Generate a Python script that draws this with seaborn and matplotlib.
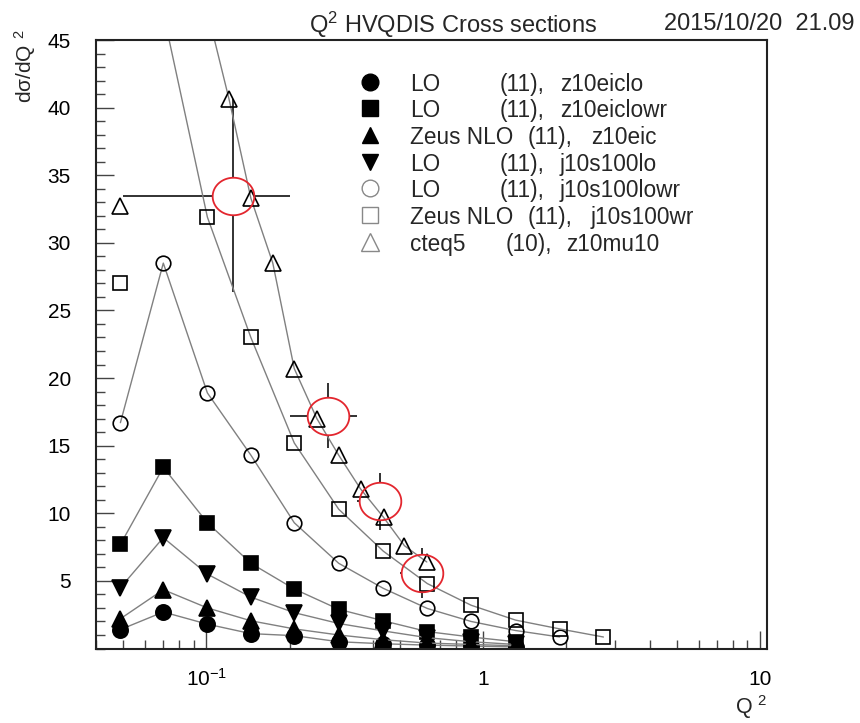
import numpy as np
import pandas as pd
import matplotlib
matplotlib.use("Agg")
import matplotlib.pyplot as plt
import seaborn as sns
from matplotlib.ticker import FixedLocator, NullFormatter, FixedFormatter, MultipleLocator

nan = np.nan

# ---- data ----
q2 = [0.049, 0.070, 0.101, 0.145, 0.208, 0.301, 0.436, 0.629, 0.905, 1.31, 1.89, 2.72]
lo_z10eiclo = [1.4, 2.7, 1.8, 1.1, 0.95, 0.5, 0.35, 0.25, 0.18, 0.12, nan, nan]
lo_z10eiclowr = [7.7, 13.4, 9.3, 6.3, 4.4, 2.9, 2.05, 1.25, 0.85, 0.5, nan, nan]
zeus_z10eic = [2.2, 4.35, 3.0, 2.05, 1.45, 1.0, 0.65, 0.4, 0.3, 0.2, nan, nan]
lo_j10s100lo = [4.5, 8.2, 5.5, 3.8, 2.65, 1.85, 1.3, 0.8, 0.5, 0.3, nan, nan]
lo_j10s100lowr = [16.7, 28.5, 18.9, 14.3, 9.3, 6.3, 4.45, 2.96, 2.0, 1.33, 0.85, nan]
zeus_j10s100wr = [27.0, 47.0, 31.9, 23.0, 15.2, 10.3, 7.2, 4.8, 3.2, 2.1, 1.45, 0.85]

q2_cteq = [0.049, 0.100, 0.121, 0.145, 0.174, 0.208, 0.251, 0.301, 0.361, 0.437, 0.52, 0.626]
cteq5_z10mu10 = [32.7, 47.5, 40.6, 33.3, 28.5, 20.7, 17.0, 14.3, 11.8, 9.7, 7.6, 6.4]

data_q2 = [0.125, 0.275, 0.425, 0.6]
data_xs = [33.5, 17.2, 10.9, 5.55]
data_q2err = [0.075, 0.075, 0.075, 0.1]
data_xserr = [7.1, 2.4, 2.1, 1.85]

legend_rows = [
    ["LO", "(11),", "z10eiclo"],
    ["LO", "(11),", "z10eiclowr"],
    ["Zeus NLO", "(11),", "z10eic"],
    ["LO", "(11),", "j10s100lo"],
    ["LO", "(11),", "j10s100lowr"],
    ["Zeus NLO", "(11),", "j10s100wr"],
    ["cteq5", "(10),", "z10mu10"],
]
y_ticks = [5, 10, 15, 20, 25, 30, 35, 40, 45]
x_ticks = [0.1, 1, 10]
x_ticklabels = ["$10^{-1}$", "1", "10"]

# ---- style ----
sns.set_theme(style="ticks")
plt.rcParams["font.family"] = ["Liberation Sans", "DejaVu Sans"]
plt.rcParams["mathtext.fontset"] = "custom"
plt.rcParams["mathtext.rm"] = "Liberation Sans"
plt.rcParams["mathtext.default"] = "regular"

W, H = 860, 723
fig = plt.figure(figsize=(W / 100, H / 100), dpi=100)
ax = fig.add_axes([96 / W, 1 - 648.5 / H, (767 - 96) / W, (648.5 - 40) / H])

line_grey = "#808080"

series = [
    (q2, lo_z10eiclo, "o", 11, True),
    (q2, lo_z10eiclowr, "s", 10, True),
    (q2, zeus_z10eic, "^", 11, True),
    (q2, lo_j10s100lo, "v", 11, True),
    (q2, lo_j10s100lowr, "o", 10.5, False),
]

# error bars of the data points (below everything)
ax.errorbar(data_q2, data_xs, xerr=data_q2err, yerr=data_xserr, fmt="none",
            ecolor="#222222", elinewidth=1.3, capsize=0, zorder=1)
theta = np.linspace(0, 2 * np.pi, 80)
ell = np.column_stack([np.cos(theta), 0.9 * np.sin(theta)])
ax.plot(data_q2, data_xs, ls="", marker=ell, ms=30, mfc="white", mec="none", zorder=1.5)

for xv, yv, mk, ms, filled in series:
    sns.lineplot(x=xv, y=yv, ax=ax, color=line_grey, lw=1.0, marker=mk,
                 markersize=ms, markerfacecolor="black" if filled else "none",
                 markeredgecolor="black", markeredgewidth=1.2,
                 estimator=None, sort=False, legend=False)

# open squares: first point stand-alone, rest on curve
ax.plot(q2[:1], zeus_j10s100wr[:1], ls="", marker="s", ms=10.5, mfc="none",
        mec="black", mew=1.2, zorder=2)
sns.lineplot(x=q2[1:], y=zeus_j10s100wr[1:], ax=ax, color=line_grey, lw=1.0,
             marker="s", markersize=10.5, markerfacecolor="none",
             markeredgecolor="black", markeredgewidth=1.2,
             estimator=None, sort=False, legend=False)
# cteq5 open triangles
ax.plot(q2_cteq[:1], cteq5_z10mu10[:1], ls="", marker="^", ms=11, mfc="none",
        mec="black", mew=1.2, zorder=2)
sns.lineplot(x=q2_cteq[1:], y=cteq5_z10mu10[1:], ax=ax, color=line_grey, lw=1.0,
             marker="^", markersize=11, markerfacecolor="none",
             markeredgecolor="black", markeredgewidth=1.2,
             estimator=None, sort=False, legend=False)

# red ellipses on top
ax.plot(data_q2, data_xs, ls="", marker=ell, ms=30, mfc="none", mec="#e3262e",
        mew=1.3, zorder=6)

# ---- axes ----
ax.set_xscale("log")
ax.set_xlim(0.04, 10.6)
ax.set_ylim(0, 45)
ax.xaxis.set_major_locator(FixedLocator(x_ticks))
ax.xaxis.set_major_formatter(FixedFormatter(x_ticklabels))
minors = [m * d for d in (0.01, 0.1, 1) for m in range(2, 10)]
ax.xaxis.set_minor_locator(FixedLocator(minors))
ax.xaxis.set_minor_formatter(NullFormatter())
ax.yaxis.set_major_locator(FixedLocator(y_ticks))
ax.yaxis.set_minor_locator(MultipleLocator(1))
ax.set_xlabel("")
ax.set_ylabel("")
for s in ax.spines.values():
    s.set_color("#222222")
    s.set_linewidth(1.5)
ax.tick_params(which="major", direction="in", length=13, width=1.0,
               color="#444444", labelsize=15, labelcolor="black")
ax.tick_params(which="minor", direction="in", length=6.5, width=1.0, color="#444444")
ax.tick_params(axis="y", which="major", pad=18)
ax.tick_params(axis="x", which="major", pad=26.5)
for t in ax.xaxis.get_major_ticks():
    t.label1.set_verticalalignment("baseline")

# ---- legend (manual, ROOT-like) ----
def fx(px):
    return px / W

def fy(py):
    return 1 - py / H

leg_markers = [("o", 12, "black", "black"), ("s", 11, "black", "black"),
               ("^", 12, "black", "black"), ("v", 12, "black", "black"),
               ("o", 12, "none", "#888888"), ("s", 12, "none", "#888888"),
               ("^", 12.5, "none", "#888888")]
col2_x = [500, 500, 528, 500, 500, 528, 506]
col3_x = [560, 560, 591, 560, 560, 591, 566]
for i, (row, (mk, ms, fc, ec)) in enumerate(zip(legend_rows, leg_markers)):
    yy = 81.7 + 26.67 * i
    ax.plot([fx(370)], [fy(yy)], transform=fig.transFigure, clip_on=False,
            ls="", marker=mk, ms=ms, mfc=fc, mec=ec, mew=1.0, zorder=7)
    fig.text(fx(410), fy(yy), row[0], fontsize=16.3, ha="left", va="center_baseline")
    fig.text(fx(col2_x[i]), fy(yy), row[1], fontsize=16.3, ha="left", va="center_baseline")
    fig.text(fx(col3_x[i]), fy(yy), row[2], fontsize=16.3, ha="left", va="center_baseline")

# ---- titles ----
fig.text(fx(453), fy(21), "Q$^{2}$ HVQDIS Cross sections", fontsize=17,
         ha="center", va="center_baseline")
fig.text(fx(854), fy(21), "2015/10/20  21.09", fontsize=17, ha="right",
         va="center_baseline")
fig.text(fx(25), fy(29), "d\u03c3/dQ $^{2}$", fontsize=15, rotation=90,
         ha="center", va="top")
fig.text(fx(768), fy(714), "Q $^{2}$", fontsize=15.5, ha="right", va="baseline")

fig.savefig("out.png", dpi=100)
